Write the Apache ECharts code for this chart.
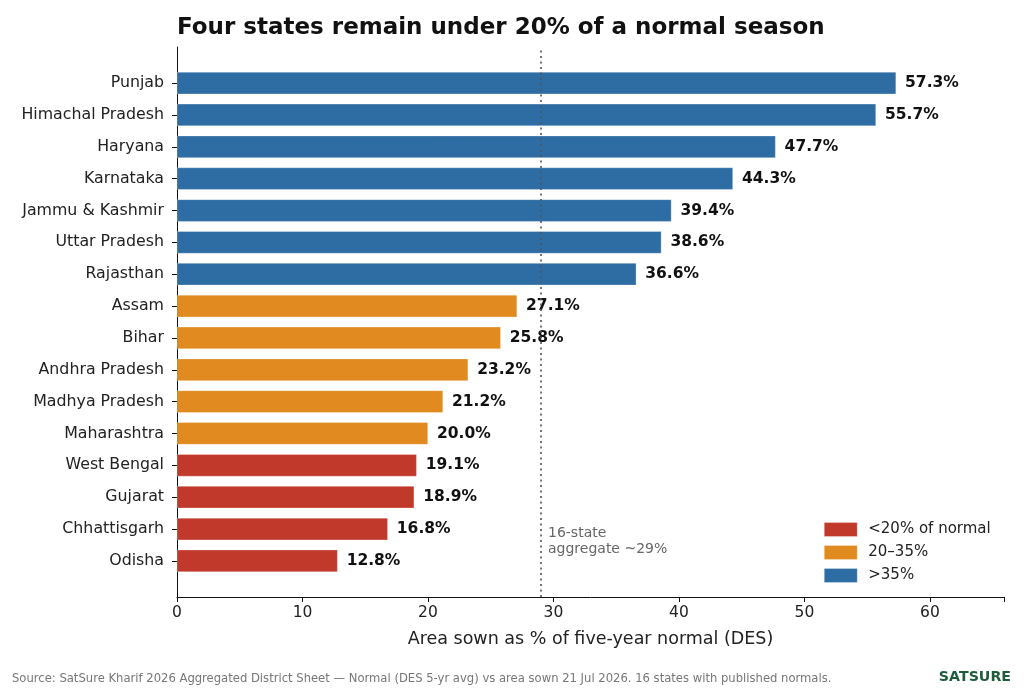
<!DOCTYPE html>
<html>
<head>
<meta charset="utf-8">
<script src="https://cdn.jsdelivr.net/npm/echarts@6/dist/echarts.min.js"></script>
<style>
html,body{margin:0;padding:0;background:#fff;}
#chart{width:1024px;height:691px;}
</style>
</head>
<body>
<div id="chart"></div>
<script>
const states = ["Punjab","Himachal Pradesh","Haryana","Karnataka","Jammu & Kashmir","Uttar Pradesh","Rajasthan","Assam","Bihar","Andhra Pradesh","Madhya Pradesh","Maharashtra","West Bengal","Gujarat","Chhattisgarh","Odisha"];
const sownPct = [57.3,55.7,47.7,44.3,39.4,38.6,36.6,27.1,25.8,23.2,21.2,20.0,19.1,18.9,16.8,12.8];
const groupNames = ["<20% of normal","20\u201335%",">35%"];
const groupColors = ["#c0392b","#e08a1f","#2e6da4"];
const aggregate = 29;
const xTicks = [0,10,20,30,40,50,60];

function groupOf(v){ return v < 20 ? 0 : (v <= 35 ? 1 : 2); }

const FONT = "DejaVu Sans";
const chart = echarts.init(document.getElementById('chart'), null, {renderer:'canvas'});

const barSeries = groupNames.map((name, g) => ({
  name: name,
  type: 'bar',
  xAxisIndex: 1,
  yAxisIndex: 1,
  stack: 'all',
  barWidth: '70%',
  data: sownPct.map(v => groupOf(v) === g ? v : '-'),
  itemStyle: {color: groupColors[g], borderColor: 'rgba(255,255,255,0.6)', borderWidth: 0.5},
  label: {
    show: true, position: 'right', distance: 9,
    fontFamily: FONT, fontWeight: 'bold', fontSize: 15.5, color: '#111',
    formatter: p => Number(p.value).toFixed(1) + '%'
  },
  emphasis: {disabled: true}
}));

const xMax = 65.9;

chart.setOption({
  animation: false,
  backgroundColor: '#fff',
  textStyle: {fontFamily: FONT},
  title: {
    text: 'Four states remain under 20% of a normal season',
    left: 177, top: 17, padding: [0,0,0,0],
    textStyle: {fontFamily: FONT, fontWeight: 'bold', fontSize: 23, color: '#111'}
  },
  legend: {
    orient: 'vertical',
    left: 824, top: 522, padding: 0,
    icon: 'rect',
    itemWidth: 33, itemHeight: 14, itemGap: 8,
    data: groupNames,
    textStyle: {fontFamily: FONT, fontSize: 15, color: '#222', padding: [0,0,0,6]},
    itemStyle: {borderColor: 'rgba(255,255,255,0.6)', borderWidth: 0.5}
  },
  grid: [
    {left: 177, right: 20, top: 47, bottom: 94},
    {left: 177, right: 20, top: 67.2, bottom: 114.2}
  ],
  xAxis: [
    {
      gridIndex: 0, type: 'value', min: 0, max: xMax, interval: 10,
      axisLine: {show: true, lineStyle: {color: '#111', width: 1}},
      axisTick: {show: true, length: 5, lineStyle: {color: '#111'}},
      axisLabel: {fontFamily: FONT, fontSize: 15.5, color: '#222', margin: 8,
        formatter: v => xTicks.indexOf(v) >= 0 ? String(v) : ''},
      splitLine: {show: false},
      name: 'Area sown as % of five-year normal (DES)',
      nameLocation: 'middle', nameGap: 33,
      nameTextStyle: {fontFamily: FONT, fontSize: 17.5, color: '#222'}
    },
    {
      gridIndex: 1, type: 'value', min: 0, max: xMax, show: false
    }
  ],
  yAxis: [
    {
      gridIndex: 0, type: 'value', min: 0, max: 1,
      axisLine: {show: true, lineStyle: {color: '#111', width: 1}},
      axisTick: {show: false}, axisLabel: {show: false}, splitLine: {show: false}
    },
    {
      gridIndex: 1, type: 'category', inverse: true, data: states,
      axisLine: {show: false},
      axisTick: {show: true, alignWithLabel: true, length: 5, lineStyle: {color: '#111'}},
      axisLabel: {fontFamily: FONT, fontSize: 15.8, color: '#222', margin: 13}
    }
  ],
  graphic: [
    {type: 'text', left: 548, top: 525,
      style: {text: '16-state\naggregate ~29%', fontFamily: FONT, fontSize: 14, fill: '#666', lineHeight: 16.5}},
    {type: 'text', left: 12, top: 673,
      style: {text: 'Source: SatSure Kharif 2026 Aggregated District Sheet \u2014 Normal (DES 5-yr avg) vs area sown 21 Jul 2026. 16 states with published normals.', fontFamily: FONT, fontSize: 11.6, fill: '#777'}},
    {type: 'text', right: 13, top: 670,
      style: {text: 'SATSURE', fontFamily: FONT, fontSize: 14.2, fontWeight: 'bold', fill: '#1e5c3b'}}
  ],
  series: [
    {
      type: 'line', xAxisIndex: 0, yAxisIndex: 0, data: [], silent: true,
      markLine: {
        silent: true, symbol: 'none', label: {show: false},
        lineStyle: {color: '#555', type: [2, 3.5], width: 1.6},
        data: [{xAxis: aggregate}]
      }
    }
  ].concat(barSeries)
});
</script>
</body>
</html>
